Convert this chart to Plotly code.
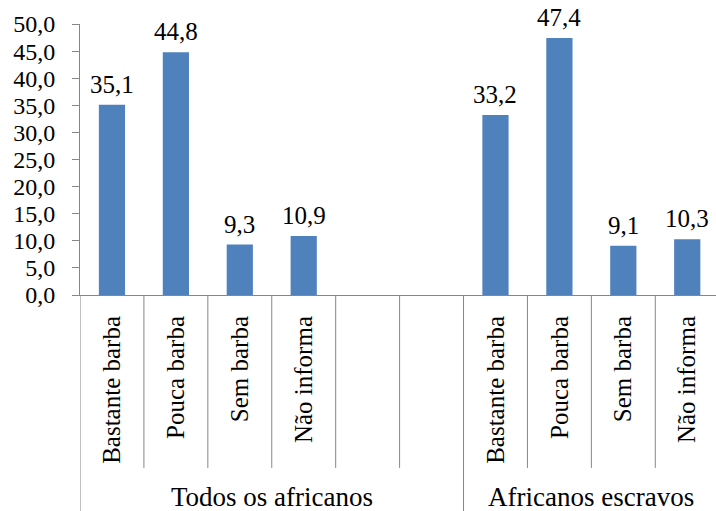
import plotly.graph_objects as go

# Beard categories per group; the two blank slots separate the groups
categories = ["Bastante barba", "Pouca barba", "Sem barba", "Não informa", "", "",
              "Bastante barba", "Pouca barba", "Sem barba", "Não informa"]
values = [35.1, 44.8, 9.3, 10.9, None, None, 33.2, 47.4, 9.1, 10.3]
groups = ["Todos os africanos", "Africanos escravos"]
group_sizes = [6, 4]

y_ticks = [0, 5, 10, 15, 20, 25, 30, 35, 40, 45, 50]

FONT = "Liberation Serif"
AXIS = "#868686"
BLUE = "#4F81BD"

positions = list(range(len(categories)))

fig = go.Figure(go.Bar(
    x=positions,
    y=values,
    marker=dict(color=BLUE, line=dict(width=0)),
    hoverinfo="skip",
))

# Value labels above each bar, decimal comma
annotations = []
for p, v in zip(positions, values):
    if v is None:
        continue
    annotations.append(dict(text=f"{v:.1f}".replace(".", ","), x=p, y=v,
                            xref="x", yref="y", showarrow=False,
                            yanchor="bottom", yshift=5,
                            font=dict(family=FONT, size=25, color="black")))

# Group boundaries (long lines) and category separators (short lines)
shapes = []
bounds = [-0.5]
for n in group_sizes:
    bounds.append(bounds[-1] + n)
group_edges = set(bounds)
for b in bounds:
    shapes.append(dict(type="line", xref="x", yref="paper", x0=b, x1=b,
                       y0=0, y1=-0.80, line=dict(color=AXIS, width=1)))
for i in range(len(categories) - 1):
    b = i + 0.5
    if b in group_edges:
        continue
    shapes.append(dict(type="line", xref="x", yref="paper", x0=b, x1=b,
                       y0=0, y1=-0.638, line=dict(color=AXIS, width=1)))

for g, lo, hi in zip(groups, bounds[:-1], bounds[1:]):
    annotations.append(dict(text=g, xref="x", yref="paper", x=(lo + hi) / 2,
                            y=-0.745, showarrow=False, yanchor="middle",
                            font=dict(family=FONT, size=27, color="black")))

fig.update_layout(
    width=716, height=511,
    margin=dict(l=80, r=0, t=24, b=216),
    paper_bgcolor="white", plot_bgcolor="white",
    separators=",.",
    bargap=0.59,
    showlegend=False,
    shapes=shapes,
    annotations=annotations,
    font=dict(family=FONT, color="black"),
    xaxis=dict(
        range=[-0.5, 9.45],
        tickvals=positions,
        ticktext=categories,
        tickangle=-90,
        tickfont=dict(family=FONT, size=25, color="black"),
        ticks="",
        ticklabelstandoff=10,
        showline=True, linecolor=AXIS, linewidth=1,
        showgrid=False, zeroline=False,
    ),
    yaxis=dict(
        range=[0, 50],
        tickvals=y_ticks,
        tickformat=".1f",
        tickfont=dict(family=FONT, size=24, color="black"),
        ticks="outside", ticklen=7, tickcolor=AXIS,
        ticklabelstandoff=12,
        showline=True, linecolor=AXIS, linewidth=1,
        showgrid=False, zeroline=False,
    ),
)

fig.write_html("out.html")
